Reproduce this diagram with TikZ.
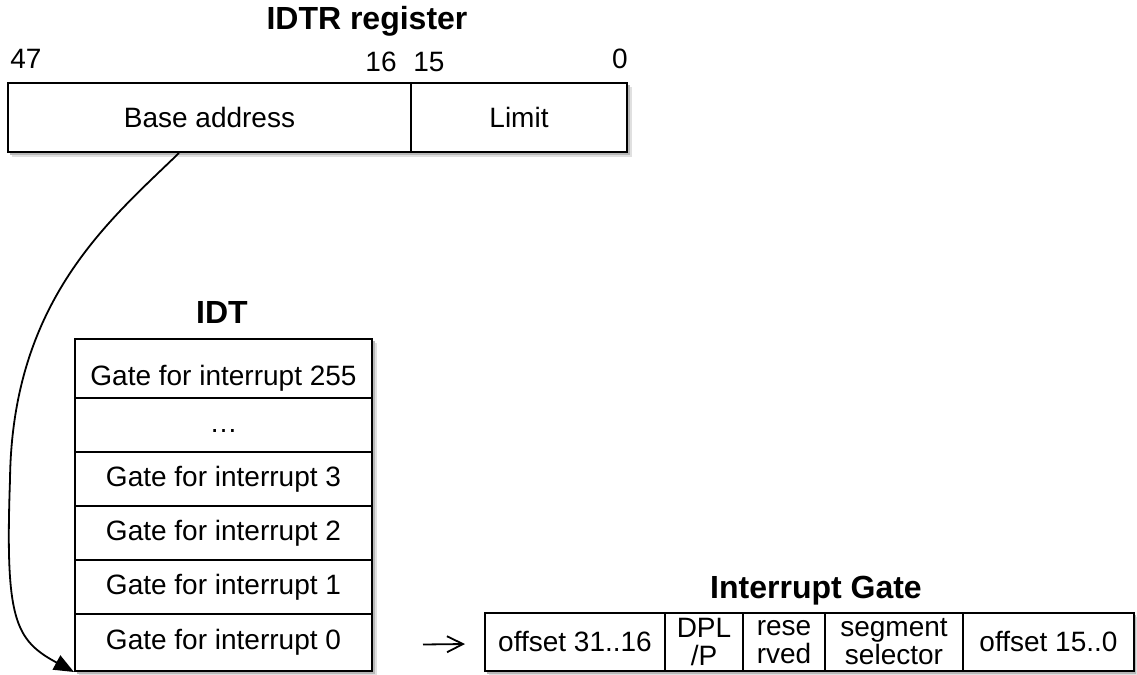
\documentclass[tikz,border=0pt]{standalone}
\usepackage{fontspec}
\setmainfont{Liberation Sans}
\usetikzlibrary{arrows.meta,calc}
\begin{document}
\begin{tikzpicture}[x=0.5pt,y=-0.5pt,
  cell/.style={draw,line width=1pt,fill=white,inner sep=0pt,font=\fontsize{14}{14}\selectfont,align=center},
  rowcell/.style={cell,minimum width=148.5pt,text height=10pt,text depth=3pt},
  gcell/.style={cell,minimum height=29pt},
  ttl/.style={font=\fontsize{16}{16}\selectfont\bfseries,inner sep=0pt},
  num/.style={font=\fontsize{14}{14}\selectfont,inner sep=0pt},
  shadeA/.style={fill=black!12},
  shadeB/.style={fill=black!28},
  conn/.style={line width=0.9pt},
]
\useasboundingbox (0,0) rectangle (1137,675);

% ---- IDTR register ----
\fill[shadeA] (12,87) rectangle (632,157);
\fill[shadeB] (10,85) rectangle (630,155);
\node[cell,minimum width=201.5pt,minimum height=34.5pt] (base) at (209.5,117.5) {Base address};
\node[cell,minimum width=108pt,minimum height=34.5pt] (limit) at (519,117.5) {Limit};
\node[ttl] (t1) at (367,21) {IDTR register};
\node[num,anchor=west] (n47) at (10,59) {47};
\node[num,anchor=east] (n16) at (397,62) {16};
\node[num,anchor=west] (n15) at (413,62) {15};
\node[num,anchor=east] (n0) at (628,59) {0};

% ---- IDT ----
\node[ttl] (t2) at (222,312) {IDT};
\fill[shadeA] (79,343) rectangle (377,676);
\fill[shadeB] (77,341) rectangle (375,674);
\node[rowcell,minimum height=29.5pt,text height=20pt] (r255) at (223.5,368.5) {Gate for interrupt 255};
\node[rowcell,minimum height=27pt] (rdots) at (223.5,425) {…};
\node[rowcell,minimum height=27pt] (r3) at (223.5,479) {Gate for interrupt 3};
\node[rowcell,minimum height=27pt] (r2) at (223.5,533) {Gate for interrupt 2};
\node[rowcell,minimum height=27pt] (r1) at (223.5,587) {Gate for interrupt 1};
\node[rowcell,minimum height=28.5pt] (r0) at (223.5,642.5) {Gate for interrupt 0};

% ---- Interrupt Gate ----
\node[ttl] (t3) at (816,591) {Interrupt Gate};
\fill[shadeA] (489,617) rectangle (1137,676);
\fill[shadeB] (487,615) rectangle (1136,674);
\node[gcell,minimum width=90pt] (g1) at (575,642) {offset 31..16};
\node[gcell,minimum width=39pt] (g2) at (704,642) {DPL\\/P};
\node[gcell,minimum width=41pt] (g3) at (784,642) {rese\\rved};
\node[gcell,minimum width=69pt] (g4) at (894,642) {segment\\selector};
\node[gcell,minimum width=85.5pt] (g5) at (1048.5,642) {offset 15..0};

% ---- connectors ----
\coordinate (s) at ($(base.south west)+(172,0)$);
\draw[conn,-{Triangle[length=10pt,width=8pt]}] (s) .. controls (110,220) and (12,300) .. (10,480)
  .. controls (5,620) and (15,640) .. (r0.south west);
\coordinate (a1) at ($(r0.east)+(50,2)$);
\coordinate (a2) at ($(g1.west)+(-19,2)$);
\draw[conn,-{Straight Barb[length=8pt,width=8pt]}] (a1) -- (a2);
\end{tikzpicture}
\end{document}
